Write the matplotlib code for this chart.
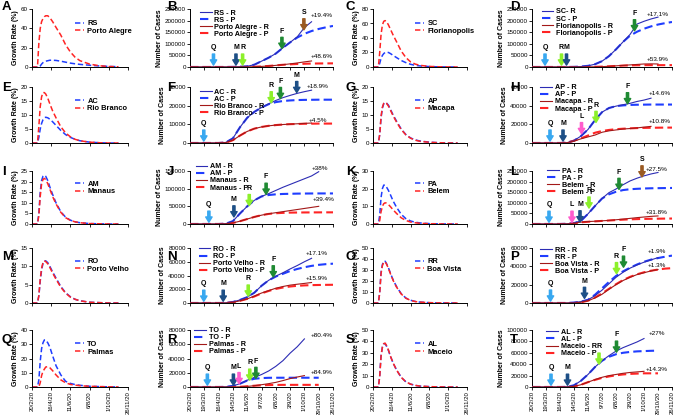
import numpy as np
import matplotlib.pyplot as plt

plt.rcParams['font.family'] = ['Liberation Sans', 'DejaVu Sans']

# x = days since 20/2/20
g_days = [0, 16, 20, 24, 28, 32, 36, 40, 46, 52, 60, 70, 84, 98, 112, 126, 140, 168, 196, 224, 252]
c_days = [0, 14, 28, 42, 56, 70, 84, 98, 112, 126, 140, 154, 168, 182, 196, 210, 224, 238, 252, 266, 280]

g_ticks = [0, 56, 112, 168, 224, 280]
g_ticklabels = ['20/2/20', '16/4/20', '11/6/20', '6/8/20', '1/10/20', '26/11/20']
c_ticks = [0, 28, 56, 84, 112, 140, 168, 196, 224, 252, 280]
c_ticklabels = ['20/2/20', '19/3/20', '16/4/20', '14/5/20', '11/6/20', '9/7/20',
                '6/8/20', '3/9/20', '1/10/20', '29/10/20', '26/11/20']

# ---- growth rate (%) : state / capital ----
rs_g = [0, 0, 0, 1, 3, 4.5, 5.5, 6, 6.5, 7, 7, 6.8, 6, 5, 4, 3.3, 2.7, 1.8, 1.1, 0.6, 0.3]
poa_g = [0, 0, 25, 40, 47, 50, 52, 53, 53, 51, 47, 41, 33, 23, 15.5, 10, 6.5, 3, 1.3, 0.5, 0.2]
sc_g = [0, 0, 5, 12, 16, 18.5, 20, 20.5, 20, 18.5, 16, 13, 9, 6, 3.7, 2.3, 1.5, 0.6, 0.2, 0.1, 0]
flo_g = [0, 0, 20, 45, 58, 63, 64, 63, 58, 52, 44, 35, 22, 13, 7, 4, 2.3, 0.8, 0.3, 0.1, 0]
ac_g = [0, 0, 2, 5, 7, 8.3, 9, 9.2, 9, 8.5, 7.6, 6.3, 4.5, 3, 2, 1.3, 0.8, 0.3, 0.1, 0, 0]
rb_g = [0, 0, 6, 13, 16.5, 18, 18, 17.5, 16, 14, 11.5, 9, 5.8, 3.6, 2.2, 1.3, 0.8, 0.3, 0.1, 0, 0]
ap_g = [0, 0, 3, 9, 12.5, 14, 14.5, 14.3, 13.5, 12, 10, 7.8, 5, 3, 1.8, 1.1, 0.7, 0.3, 0.1, 0, 0]
mcp_g = [0, 0, 3, 9.5, 12.8, 14.2, 14.5, 14.2, 13.2, 11.7, 9.7, 7.5, 4.8, 2.9, 1.7, 1, 0.6, 0.25, 0.1, 0, 0]
am_g = [0, 0, 5, 15, 20.5, 22.5, 23, 22.5, 20.5, 17.5, 14, 10, 5.8, 3.2, 1.8, 1, 0.6, 0.2, 0.1, 0, 0]
mao_g = [0, 0, 4, 13, 19, 21, 21.5, 21, 19, 16.5, 13, 9.5, 5.5, 3, 1.7, 1, 0.6, 0.2, 0.1, 0, 0]
pa_g = [0, 0, 5, 15, 20, 22, 22, 21, 19, 16.5, 13, 9.5, 5.5, 3, 1.7, 1, 0.6, 0.2, 0.1, 0, 0]
bel_g = [0, 0, 2, 7, 10, 11.5, 12, 11.8, 11, 9.8, 8, 6, 3.5, 2, 1.1, 0.7, 0.4, 0.15, 0.05, 0, 0]
ro_g = [0, 0, 2, 6, 9, 10.8, 11.5, 11.5, 11, 10, 8.5, 6.8, 4.5, 2.8, 1.7, 1, 0.6, 0.2, 0.1, 0, 0]
pvh_g = [0, 0, 2, 6.5, 9.5, 11, 11.5, 11.3, 10.7, 9.7, 8.2, 6.5, 4.3, 2.7, 1.6, 1, 0.6, 0.2, 0.1, 0, 0]
rr_g = [0, 0, 10, 28, 35, 38, 38, 36, 32, 27, 21, 15, 8.5, 4.5, 2.5, 1.4, 0.8, 0.3, 0.1, 0, 0]
bvb_g = [0, 0, 9, 27, 34, 37, 37.5, 35.5, 31.5, 26.5, 20.5, 14.5, 8.2, 4.3, 2.4, 1.3, 0.8, 0.3, 0.1, 0, 0]
to_g = [0, 0, 5, 18, 27, 31, 33, 33, 31, 28, 22, 15, 8.5, 4, 2.5, 1.7, 1.2, 0.5, 0.3, 0.1, 0.05]
pmw_g = [0, 0, 0, 3, 8, 11, 12.5, 14, 14.3, 13.5, 11.5, 8.5, 5, 3, 1.8, 1.3, 0.9, 0.5, 0.3, 0.1, 0.05]
al_g = [0, 0, 10, 28, 35, 38, 38, 36, 32, 27, 21, 15, 8.5, 4.5, 2.5, 1.4, 0.8, 0.3, 0.1, 0, 0]
mcz_g = [0, 0, 9, 27, 35, 38, 38.5, 36.5, 32.5, 27, 21, 15, 8.5, 4.5, 2.5, 1.4, 0.8, 0.3, 0.1, 0, 0]

# ---- number of cases: R = reported, P = projected ----
rs_r = [0, 0, 0, 0, 0, 100, 500, 1200, 3000, 10000, 25000, 40000, 58000, 83000, 106000, 130000, 170000, 195000]
rs_p = [0, 0, 0, 0, 0, 100, 500, 1200, 3000, 10000, 25000, 40000, 58000, 83000, 106000, 127000, 143000, 155000, 164000, 171000, 177000]
poa_r = [0, 0, 0, 0, 0, 0, 0, 200, 500, 1000, 2500, 4500, 7000, 10000, 13500, 17500, 22000, 26000]
poa_p = [0, 0, 0, 0, 0, 0, 0, 200, 500, 1000, 2500, 4500, 7000, 9500, 11500, 13000, 14000, 14800, 15200, 15500, 15700]

sc_r = [0, 0, 0, 0, 0, 0, 500, 2000, 5000, 12000, 25000, 47000, 76000, 108000, 140000, 185000, 197000, 207000, 215000]
sc_p = [0, 0, 0, 0, 0, 0, 500, 2000, 5000, 12000, 25000, 47000, 76000, 108000, 135000, 152000, 165000, 175000, 183000, 189000, 194000]
flo_r = [0, 0, 0, 0, 0, 0, 0, 0, 300, 800, 1500, 3000, 5000, 7000, 9000, 11000, 13000, 13500, 13000]
flo_p = [0, 0, 0, 0, 0, 0, 0, 0, 300, 800, 1500, 3000, 4500, 6000, 7000, 7500, 7800, 8000, 8000, 8000, 8000]

ac_r = [0, 0, 0, 0, 0, 300, 2500, 8500, 13500, 16700, 19000, 21000, 22800, 24300, 25500, 26600, 27500, 28300]
ac_p = [0, 0, 0, 0, 0, 300, 2500, 8500, 13500, 16700, 19000, 20800, 21900, 22500, 22800, 23000, 23100, 23150, 23200, 23200, 23200]
rb_r = [0, 0, 0, 0, 0, 200, 1500, 4000, 6200, 7700, 8600, 9200, 9600, 9900, 10100, 10300, 10500, 10700]
rb_p = [0, 0, 0, 0, 0, 200, 1500, 4000, 6200, 7700, 8600, 9200, 9600, 9900, 10100, 10200, 10300, 10350, 10400, 10400, 10400]

ap_r = [0, 0, 0, 0, 0, 300, 2500, 7500, 14500, 24500, 33000, 37500, 39500, 41000, 42500, 44500, 46000, 48000]
ap_p = [0, 0, 0, 0, 0, 300, 2500, 7500, 14500, 24500, 33000, 37500, 39500, 40300, 40800, 41000, 41100, 41200, 41200, 41200, 41200]
mcp_r = [0, 0, 0, 0, 0, 300, 2000, 4500, 6500, 8500, 11500, 13000, 14000, 15000, 15500, 16200, 17000, 17800]
mcp_p = [0, 0, 0, 0, 0, 300, 2500, 5000, 8000, 11000, 12800, 14000, 14800, 15300, 15700, 16000, 16200, 16300, 16400, 16500, 16500]

am_r = [0, 0, 0, 0, 0, 1000, 8000, 30000, 50000, 67000, 78000, 86000, 95000, 104000, 112000, 120000, 128000, 136000, 148000]
am_p = [0, 0, 0, 0, 0, 1000, 8000, 30000, 50000, 67000, 78000, 82000, 84000, 85000, 85500, 86000, 86200, 86400, 86500, 86500, 86500]
mao_r = [0, 0, 0, 0, 0, 500, 3000, 8000, 14000, 20000, 25000, 29000, 32000, 35000, 38000, 41000, 44000, 47000, 50000]
mao_p = [0, 0, 0, 0, 0, 500, 3000, 8000, 14000, 20000, 25000, 28500, 30500, 31500, 32200, 32500, 32700, 32800, 32900, 33000, 33000]

pa_r = [0, 0, 0, 0, 0, 1000, 4000, 15000, 48000, 85000, 120000, 148000, 165000, 185000, 203000, 216000, 227000, 236000, 243000]
pa_p = [0, 0, 0, 0, 0, 1000, 4000, 15000, 48000, 85000, 120000, 140000, 152000, 160000, 164000, 166000, 167500, 168500, 169000, 169500, 170000]
bel_r = [0, 0, 0, 0, 0, 500, 3000, 9000, 11500, 13000, 15000, 17000, 20000, 23000, 26500, 30000, 33000, 36000, 38000]
bel_p = [0, 0, 0, 0, 0, 500, 3000, 8000, 10500, 12500, 14500, 16500, 18500, 20500, 22000, 23000, 24000, 24500, 25000, 25500, 25800]

ro_r = [0, 0, 0, 0, 0, 200, 1500, 4500, 8500, 15000, 25000, 33000, 39000, 44000, 49500, 54500, 60000, 65000]
ro_p = [0, 0, 0, 0, 0, 200, 1500, 4500, 8500, 15000, 25000, 33000, 38500, 42500, 46500, 49500, 52000, 54000, 55500, 56500, 57200]
pvh_r = [0, 0, 0, 0, 0, 0, 1000, 3200, 6000, 10000, 14500, 18000, 21500, 24000, 26000, 27300, 28500, 29800]
pvh_p = [0, 0, 0, 0, 0, 0, 1000, 3200, 6000, 9500, 14000, 17500, 20500, 22500, 24000, 25000, 25600, 26000, 26200, 26400, 26500]

rr_r = [0, 0, 0, 0, 0, 0, 500, 1500, 3500, 8000, 14000, 21000, 28000, 33500, 38000, 41500, 44500, 47000, 49500]
rr_p = [0, 0, 0, 0, 0, 0, 500, 1500, 3500, 9000, 16000, 23000, 29500, 34500, 38500, 42000, 45000, 47300, 49000, 50500, 51700]
bvb_r = [0, 0, 0, 0, 0, 0, 0, 800, 2500, 5500, 9500, 15000, 20000, 24500, 28000, 31000, 33000, 35000, 36500]
bvb_p = [0, 0, 0, 0, 0, 0, 0, 800, 2500, 6000, 10500, 15500, 20500, 25000, 28500, 31300, 33500, 35200, 36500, 37500, 38000]

to_r = [0, 0, 0, 0, 0, 200, 1500, 4700, 9500, 13500, 17500, 22500, 29000, 37000, 47500, 56500, 67500]
to_p = [0, 0, 0, 0, 0, 200, 1500, 4700, 9000, 11500, 12500, 12900, 13000, 13000, 13000, 13000, 13000, 13000, 13000]
pmw_r = [0, 0, 0, 0, 0, 0, 0, 300, 800, 1800, 3200, 4700, 6500, 9000, 11800, 14000, 16000]
pmw_p = [0, 0, 0, 0, 0, 0, 0, 300, 1000, 1800, 2400, 2700, 2900, 3000, 3000, 3000, 3000, 3000, 3000]

al_r = [0, 0, 0, 0, 0, 300, 3000, 11000, 22000, 35000, 46000, 55000, 63000, 69000, 74000, 79000, 85000]
al_p = [0, 0, 0, 0, 0, 300, 3000, 11000, 22000, 35000, 46000, 53000, 57500, 60000, 61500, 62500, 63000, 63500, 63800]
mcz_r = [0, 0, 0, 0, 0, 0, 1000, 4000, 8500, 13000, 17000, 20000, 22000, 24000, 25500, 26500, 27500]
mcz_p = [0, 0, 0, 0, 0, 0, 1000, 4000, 8500, 12500, 16000, 18500, 20500, 22000, 23000, 23500, 24000, 24000, 24000]

# ---- event arrows (letter, day, value at arrow tip) ----
b_arrows = [('Q', 46, 8000), ('M', 90, 8000), ('R', 103, 8000), ('F', 180, 80000), ('S', 223, 160000)]
d_arrows = [('Q', 26, 8000), ('R', 59, 8000), ('M', 69, 8000), ('F', 205, 156000)]
f_arrows = [('Q', 27, 1000), ('R', 159, 21500), ('F', 177, 23800), ('M', 209, 27000)]
h_arrows = [('Q', 36, 2000), ('M', 62, 2000), ('L', 99, 10000), ('R', 128, 22000), ('F', 191, 42000)]
j_arrows = [('Q', 37, 5000), ('M', 86, 20000), ('R', 116, 52000), ('F', 149, 84000)]
l_arrows = [('Q', 34, 8000), ('L', 80, 8000), ('M', 96, 10000), ('R', 114, 75000), ('F', 174, 163000), ('S', 220, 222000)]
n_arrows = [('Q', 27, 2500), ('M', 65, 2500), ('R', 114, 10000), ('F', 163, 38000)]
p_arrows = [('Q', 37, 2000), ('M', 105, 5000), ('R', 169, 32000), ('F', 183, 39000)]
r_arrows = [('Q', 34, 2500), ('M', 85, 2500), ('L', 96, 4700), ('R', 117, 9500), ('F', 129, 12000)]
t_arrows = [('Q', 38, 3000), ('M', 71, 3000), ('R', 134, 40000), ('F', 169, 61000)]

# ---- percent labels (text, day, value) ----
b_pct = [('+19.4%', 258, 220000), ('+48.6%', 258, 44000)]
d_pct = [('+17.1%', 252, 228000), ('+53.9%', 252, 33000)]
f_pct = [('+18.9%', 250, 30400), ('+4.5%', 250, 12000)]
h_pct = [('+14.6%', 256, 52700), ('+10.8%', 256, 23200)]
j_pct = [('+38%', 255, 157000), ('+39.4%', 262, 70000)]
l_pct = [('+27.5%', 250, 255000), ('+31.8%', 250, 53700)]
n_pct = [('+17.1%', 248, 72000), ('+15.9%', 248, 35600)]
p_pct = [('+1.9%', 250, 56000), ('+1.3%', 250, 41000)]
r_pct = [('+80.4%', 257, 72800), ('+84.9%', 257, 19700)]
t_pct = [('+27%', 250, 94000), ('+14.3%', 250, 31000)]

arrow_col = {'Q': '#38a8f0', 'M': '#1d4f86', 'R': '#8cf02a', 'F': '#1f8a33',
             'L': '#ff5ccd', 'S': '#9a5a22'}
BLUE_P, BLUE_R = '#1f3dff', '#2c2cb4'
RED_P, RED_R = '#ff2424', '#a31818'

W, H = 685, 415
col_px = [(32, 128), (190, 333), (373, 467), (532, 672)]
row_px = [(9, 67), (87, 143), (171, 224), (248, 303), (330, 387)]
letters_x = [2, 167, 346, 510]
letters_top = [1, 82, 166, 251, 334]

fig = plt.figure(figsize=(W / 100, H / 100), dpi=100)


def make_ax(col, row):
    l, r = col_px[col]
    t, b = row_px[row]
    return fig.add_axes([l / W, 1 - b / H, (r - l) / W, (b - t) / H])


def base_style(ax, ymax, ystep, ylabel, row, ticks, ticklabels):
    ax.set_xlim(0, 280)
    ax.set_ylim(0, ymax)
    ax.set_yticks(np.arange(0, ymax + 1, ystep))
    ax.set_xticks(ticks)
    if row == 4:
        ax.set_xticklabels(ticklabels, rotation=90, fontsize=4.3)
    else:
        ax.set_xticklabels([])
    ax.tick_params(axis='y', labelsize=4.5, length=2, width=0.6, pad=1)
    ax.tick_params(axis='x', length=2, width=0.6, pad=1)
    for s in ['top', 'right']:
        ax.spines[s].set_visible(False)
    for s in ['left', 'bottom']:
        ax.spines[s].set_linewidth(0.7)
    ax.set_ylabel(ylabel, fontsize=5, fontweight='bold', labelpad=1.5)


def panel_letter(col, row, letter):
    fig.text(letters_x[col] / W, 1 - letters_top[row] / H, letter,
             fontsize=9.5, fontweight='bold', va='top', ha='left')


growth_panels = [
    ('A', 'RS', 'Porto Alegre', rs_g, poa_g, 60, 20),
    ('C', 'SC', 'Florianopolis', sc_g, flo_g, 80, 20),
    ('E', 'AC', 'Rio Branco', ac_g, rb_g, 20, 5),
    ('G', 'AP', 'Macapa', ap_g, mcp_g, 20, 5),
    ('I', 'AM', 'Manaus', am_g, mao_g, 25, 5),
    ('K', 'PA', 'Belem', pa_g, bel_g, 30, 10),
    ('M', 'RO', 'Porto Velho', ro_g, pvh_g, 15, 5),
    ('O', 'RR', 'Boa Vista', rr_g, bvb_g, 50, 10),
    ('Q', 'TO', 'Palmas', to_g, pmw_g, 40, 10),
    ('S', 'AL', 'Maceio', al_g, mcz_g, 50, 10),
]

# letter, legend names, series, y range, arrows, percent labels, legend anchor
case_panels = [
    ('B', ('RS - R', 'RS - P', 'Porto Alegre - R', 'Porto Alegre - P'), rs_r, rs_p, poa_r, poa_p,
     250000, 50000, b_arrows, b_pct, (0.05, 1.04)),
    ('D', ('SC- R', 'SC - P', 'Florianopolis - R', 'Florianopolis - P'), sc_r, sc_p, flo_r, flo_p,
     250000, 50000, d_arrows, d_pct, (0.05, 1.06)),
    ('F', ('AC - R', 'AC - P', 'Rio Branco - R', 'Rio Branco - P'), ac_r, ac_p, rb_r, rb_p,
     30000, 10000, f_arrows, f_pct, (0.05, 1.02)),
    ('H', ('AP - R', 'AP - P', 'Macapa - R', 'Macapa - P'), ap_r, ap_p, mcp_r, mcp_p,
     60000, 20000, h_arrows, h_pct, (0.04, 1.1)),
    ('J', ('AM - R', 'AM - P', 'Manaus - R', 'Manaus - P'), am_r, am_p, mao_r, mao_p,
     150000, 50000, j_arrows, j_pct, (0.02, 1.2)),
    ('L', ('PA - R', 'PA - P', 'Belem - R', 'Belem - P'), pa_r, pa_p, bel_r, bel_p,
     250000, 50000, l_arrows, l_pct, (0.09, 1.12)),
    ('N', ('RO - R', 'RO - P', 'Porto Velho - R', 'Porto Velho - P'), ro_r, ro_p, pvh_r, pvh_p,
     80000, 20000, n_arrows, n_pct, (0.04, 1.09)),
    ('P', ('RR - R', 'RR - P', 'Boa Vista - R', 'Boa Vista - P'), rr_r, rr_p, bvb_r, bvb_p,
     60000, 20000, p_arrows, p_pct, (0.04, 1.08)),
    ('R', ('TO - R', 'TO - P', 'Palmas - R', 'Palmas - P'), to_r, to_p, pmw_r, pmw_p,
     80000, 20000, r_arrows, r_pct, (0.01, 1.1)),
    ('T', ('AL - R', 'AL - P', 'Maceio - R', 'Maceio - P'), al_r, al_p, mcz_r, mcz_p,
     100000, 20000, t_arrows, t_pct, (0.08, 1.07)),
]

for i, (letter, st, cap, sg, cg, ymax, ystep) in enumerate(growth_panels):
    row, col = i // 2, (i % 2) * 2
    ax = make_ax(col, row)
    ax.plot(g_days, sg, color=BLUE_P, lw=1.1, ls=(0, (3.5, 1.8)), label=st)
    ax.plot(g_days, cg, color=RED_P, lw=1.1, ls=(0, (3.5, 1.8)), label=cap)
    base_style(ax, ymax, ystep, 'Growth Rate (%)', row, g_ticks, g_ticklabels)
    ax.legend(loc='center left', bbox_to_anchor=(0.42, 0.68), frameon=False,
              prop={'size': 5.4, 'weight': 'bold'}, handlelength=1.2,
              handletextpad=0.4, labelspacing=0.05, borderaxespad=0)
    panel_letter(col, row, letter)

for i, (letter, names, sr, sp, cr, cp, ymax, ystep, arrows, pcts, leg_xy) in enumerate(case_panels):
    row, col = i // 2, (i % 2) * 2 + 1
    ax = make_ax(col, row)
    ax.plot(c_days[:len(sr)], sr, color=BLUE_R, lw=0.8, label=names[0], zorder=4)
    ax.plot(c_days[:len(sp)], sp, color=BLUE_P, lw=1.5, ls=(0, (4, 2)), label=names[1], zorder=3)
    ax.plot(c_days[:len(cr)], cr, color=RED_R, lw=0.8, label=names[2], zorder=4)
    ax.plot(c_days[:len(cp)], cp, color=RED_P, lw=1.5, ls=(0, (4, 2)), label=names[3], zorder=3)
    base_style(ax, ymax, ystep, 'Number of Cases', row, c_ticks, c_ticklabels)
    ax.legend(loc='upper left', bbox_to_anchor=leg_xy, frameon=False,
              prop={'size': 5.2, 'weight': 'bold'}, handlelength=1.6,
              handletextpad=0.4, labelspacing=0.0, borderaxespad=0)
    for lab, day, tip in arrows:
        c = arrow_col[lab]
        ax.annotate(lab, xy=(day, tip), xytext=(0, 10), textcoords='offset points',
                    ha='center', va='bottom', fontsize=5, fontweight='bold',
                    arrowprops=dict(facecolor=c, edgecolor=c, width=1.6, headwidth=4.6,
                                    headlength=3.8, shrink=0), zorder=6, annotation_clip=False)
    for txt, day, val in pcts:
        ax.text(day, val, txt, fontsize=4.6, ha='center', va='center', clip_on=False)
    panel_letter(col, row, letter)

fig.savefig('out.png', dpi=100)
